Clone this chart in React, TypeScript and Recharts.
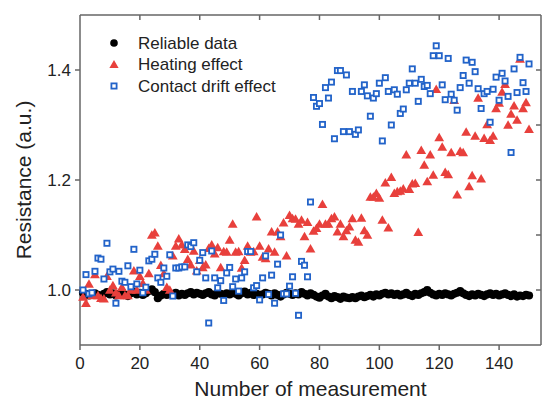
import React from 'react';
import { ScatterChart, Scatter, XAxis, YAxis } from 'recharts';

const xDomain: [number, number] = [0, 154];
const yDomain: [number, number] = [0.9, 1.5];
const xTicks = [0, 20, 40, 60, 80, 100, 120, 140];
const xTicksMirror = [20, 40, 60, 80, 100, 120, 140];
const yTicks = [1.0, 1.2, 1.4];
const yTicksMirror = [1.0, 1.1, 1.2, 1.3, 1.4];

const reliable = [
  0.995, 0.993, 0.990, 0.992, 0.994, 0.991, 0.989, 0.993, 0.996, 0.992,
  0.994, 0.990, 0.993, 0.996, 0.991, 0.989, 0.994, 0.997, 0.992, 0.995,
  0.991, 0.994, 0.998, 1.001, 0.996, 0.985, 0.990, 0.993, 0.991, 0.994,
  0.992, 0.995, 0.990, 0.993, 0.991, 0.994, 0.996, 0.992, 0.995, 0.993,
  0.991, 0.994, 0.996, 0.992, 0.990, 0.995, 0.993, 0.991, 0.994, 0.992,
  0.996, 0.993, 0.990, 0.994, 0.997, 0.992, 0.995, 0.991, 0.993, 0.989,
  0.992, 0.995, 0.993, 0.990, 0.994, 0.991, 0.988, 0.992, 0.995, 0.993,
  0.991, 0.994, 0.992, 0.996, 0.993, 0.990, 0.994, 0.991, 0.988, 0.986,
  0.990, 0.993, 0.988, 0.985, 0.989, 0.987, 0.984, 0.988, 0.986, 0.985,
  0.987, 0.985, 0.988, 0.990, 0.987, 0.989, 0.991, 0.988, 0.992, 0.990,
  0.993, 0.995, 0.992, 0.994, 0.991, 0.993, 0.990, 0.992, 0.995, 0.991,
  0.989, 0.993, 0.991, 0.994, 0.996, 1.000, 0.995, 0.992, 0.990, 0.993,
  0.991, 0.994, 0.992, 0.990, 0.993, 0.995, 0.998, 0.994, 0.991, 0.989,
  0.992, 0.990, 0.993, 0.991, 0.989, 0.992, 0.994, 0.991, 0.993, 0.990,
  0.992, 0.994, 0.991, 0.989, 0.992, 0.988, 0.990, 0.989, 0.991, 0.990,
];

const heating = [
  0.987, 0.976, 1.011, 0.990, 1.028, 0.990, 0.985, 0.984, 1.025, 1.000,
  1.008, 0.995, 0.990, 1.005, 0.990, 0.990, 1.000, 1.035, 1.000, 1.025,
  1.012, 1.000, 1.030, 1.100, 1.104, 1.080, 1.045, 1.030, 1.005, 1.000,
  1.062, 1.080, 1.093, 1.082, 1.074, 1.056, 1.046, 1.071, 1.035, 1.054,
  1.041, 1.046, 1.076, 1.082, 1.066, 1.077, 1.041, 1.070, 1.069, 1.091,
  1.120, 1.069, 1.070, 1.040, 1.054, 1.080, 1.069, 1.070, 1.133, 1.080,
  1.060, 1.057, 1.075, 1.106, 1.069, 1.106, 1.097, 1.122, 1.062, 1.136,
  1.130, 1.129, 1.120, 1.127, 1.097, 1.123, 1.075, 1.107, 1.112, 1.120,
  1.156, 1.120, 1.120, 1.130, 1.133, 1.106, 1.120, 1.097, 1.108, 1.115,
  1.130, 1.091, 1.087, 1.131, 1.108, 1.100, 1.169, 1.169, 1.176, 1.167,
  1.127, 1.195, 1.113, 1.205, 1.176, 1.179, 1.180, 1.184, 1.246, 1.183,
  1.193, 1.194, 1.105, 1.254, 1.227, 1.197, 1.246, 1.209, 1.365, 1.277,
  1.260, 1.214, 1.210, 1.250, 1.345, 1.173, 1.252, 1.250, 1.287, 1.188,
  1.208, 1.280, 1.349, 1.202, 1.276, 1.301, 1.272, 1.280, 1.330, 1.340,
  1.360, 1.374, 1.300, 1.320, 1.335, 1.309, 1.420, 1.330, 1.341, 1.292,
];

const contactDrift = [
  1.000, 1.028, 0.993, 0.995, 1.034, 1.058, 1.056, 1.020, 1.085, 1.033,
  1.038, 0.976, 1.034, 1.016, 1.014, 1.044, 1.006, 1.074, 1.011, 1.036,
  0.995, 1.005, 1.053, 1.056, 1.065, 1.022, 1.014, 1.040, 1.025, 1.064,
  0.989, 1.040, 1.040, 1.042, 1.042, 1.082, 1.079, 1.086, 1.033, 1.054,
  1.068, 1.022, 0.940, 1.071, 1.022, 1.004, 1.017, 0.981, 1.031, 1.041,
  1.006, 1.020, 0.998, 1.022, 1.033, 1.070, 1.070, 1.004, 1.008, 0.982,
  1.022, 1.062, 0.992, 1.027, 0.976, 1.047, 1.100, 0.993, 0.993, 1.007,
  1.024, 0.994, 0.954, 1.052, 1.045, 1.024, 1.160, 1.350, 1.334, 1.339,
  1.301, 1.368, 1.349, 1.378, 1.275, 1.399, 1.399, 1.288, 1.391, 1.288,
  1.361, 1.283, 1.291, 1.361, 1.373, 1.353, 1.316, 1.349, 1.357, 1.376,
  1.271, 1.386, 1.361, 1.300, 1.364, 1.356, 1.321, 1.329, 1.364, 1.376,
  1.402, 1.376, 1.343, 1.383, 1.370, 1.372, 1.357, 1.426, 1.444, 1.426,
  1.373, 1.346, 1.421, 1.356, 1.345, 1.327, 1.368, 1.390, 1.418, 1.376,
  1.414, 1.397, 1.366, 1.330, 1.357, 1.361, 1.305, 1.365, 1.387, 1.345,
  1.394, 1.380, 1.352, 1.250, 1.402, 1.359, 1.423, 1.377, 1.361, 1.411,
];

const measurementNumbers = reliable.map((_, i) => i + 1);

const toPoints = (values: number[]) =>
  values.map((y, i) => ({ x: measurementNumbers[i], y }));

const COLORS = { reliable: '#000000', heating: '#e8403c', drift: '#2263c9' };
const AXIS = '#666666';
const TEXT = '#222222';
const INNER_TICK = 5;

// layout shared by the chart and the frame overlay
const CHART_W = 542;
const CHART_H = 399;
const MARGIN = { top: 15, right: 1, bottom: 0, left: 0 };
const Y_AXIS_W = 80;
const X_AXIS_H = 54;
const PLOT = {
  x: MARGIN.left + Y_AXIS_W,
  y: MARGIN.top,
  width: CHART_W - MARGIN.left - MARGIN.right - Y_AXIS_W,
  height: CHART_H - MARGIN.top - MARGIN.bottom - X_AXIS_H,
};

const CircleShape = (props: any) => (
  <circle cx={props.cx} cy={props.cy} r={4.1} fill={COLORS.reliable} />
);
const TriangleShape = (props: any) => {
  const { cx, cy } = props;
  return (
    <polygon
      points={`${cx},${cy - 4.8} ${cx - 4.9},${cy + 3.7} ${cx + 4.9},${cy + 3.7}`}
      fill={COLORS.heating}
    />
  );
};
const SquareShape = (props: any) => {
  const { cx, cy } = props;
  return (
    <rect x={cx - 2.6} y={cy - 2.6} width={5.2} height={5.2} fill="#ffffff" stroke={COLORS.drift} strokeWidth={1.8} />
  );
};

function FrameOverlay() {
  const { x, y, width, height } = PLOT;
  const sx = (v: number) => x + ((v - xDomain[0]) / (xDomain[1] - xDomain[0])) * width;
  const sy = (v: number) => y + ((yDomain[1] - v) / (yDomain[1] - yDomain[0])) * height;
  return (
    <svg
      width={CHART_W}
      height={CHART_H}
      style={{ position: 'absolute', left: 0, top: 0, pointerEvents: 'none' }}
    >
      <g stroke={AXIS} strokeWidth={1.5} fill="none">
        <line x1={x} y1={y} x2={x + width} y2={y} />
        <line x1={x + width} y1={y} x2={x + width} y2={y + height} />
        {xTicksMirror.map((t) => (
          <line key={`tx${t}`} x1={sx(t)} y1={y} x2={sx(t)} y2={y + INNER_TICK} />
        ))}
        {yTicksMirror.map((t) => (
          <line key={`ty${t}`} x1={x + width - INNER_TICK} y1={sy(t)} x2={x + width} y2={sy(t)} />
        ))}
      </g>
    </svg>
  );
}

const legendItems = [
  { name: 'Reliable data', kind: 'circle' },
  { name: 'Heating effect', kind: 'triangle' },
  { name: 'Contact drift effect', kind: 'square' },
];

function LegendBox() {
  return (
    <div style={{ position: 'absolute', left: 100, top: 32, width: 200, height: 70, pointerEvents: 'none' }}>
      <svg width={200} height={70}>
        {legendItems.map((item, i) => {
          const cy = 11 + i * 21.5;
          const cx = 14;
          let marker: React.ReactNode = null;
          if (item.kind === 'circle') marker = <circle cx={cx} cy={cy} r={3.8} fill={COLORS.reliable} />;
          if (item.kind === 'triangle')
            marker = <polygon points={`${cx},${cy - 4.6} ${cx - 4.6},${cy + 3.6} ${cx + 4.6},${cy + 3.6}`} fill={COLORS.heating} />;
          if (item.kind === 'square')
            marker = <rect x={cx - 2.6} y={cy - 2.6} width={5.2} height={5.2} fill="#fff" stroke={COLORS.drift} strokeWidth={1.8} />;
          return (
            <g key={item.name}>
              {marker}
              <text x={38} y={cy} dominantBaseline="central" fontSize={17} fill={TEXT}>
                {item.name}
              </text>
            </g>
          );
        })}
      </svg>
    </div>
  );
}

export default function App() {
  return (
    <div style={{ position: 'absolute', left: 0, top: 0, width: CHART_W, height: CHART_H, fontFamily: '"Liberation Sans", Arial, sans-serif' }}>
      <ScatterChart width={CHART_W} height={CHART_H} margin={MARGIN}>
        <XAxis
          type="number"
          dataKey="x"
          domain={xDomain}
          ticks={xTicks}
          height={X_AXIS_H}
          tickSize={5}
          tickMargin={7}
          axisLine={{ stroke: AXIS, strokeWidth: 1.5 }}
          tickLine={{ stroke: AXIS, strokeWidth: 1.5 }}
          tick={{ fill: TEXT, fontSize: 17 }}
          label={{ value: 'Number of measurement', position: 'insideBottom', offset: 3, fill: TEXT, fontSize: 21 }}
        />
        <YAxis
          type="number"
          dataKey="y"
          domain={yDomain}
          ticks={yTicks}
          width={Y_AXIS_W}
          tickSize={5}
          tickMargin={4}
          tickFormatter={(v: number) => v.toFixed(1)}
          axisLine={{ stroke: AXIS, strokeWidth: 1.5 }}
          tickLine={{ stroke: AXIS, strokeWidth: 1.5 }}
          tick={{ fill: TEXT, fontSize: 17 }}
          label={{
            value: 'Resistance (a.u.)',
            angle: -90,
            position: 'insideLeft',
            offset: 24,
            fill: TEXT,
            fontSize: 21,
            style: { textAnchor: 'middle' },
          }}
        />
        <Scatter name="Reliable data" data={toPoints(reliable)} shape={CircleShape} isAnimationActive={false} />
        <Scatter name="Heating effect" data={toPoints(heating)} shape={TriangleShape} isAnimationActive={false} />
        <Scatter name="Contact drift effect" data={toPoints(contactDrift)} shape={SquareShape} isAnimationActive={false} />
      </ScatterChart>
      <FrameOverlay />
      <LegendBox />
    </div>
  );
}
